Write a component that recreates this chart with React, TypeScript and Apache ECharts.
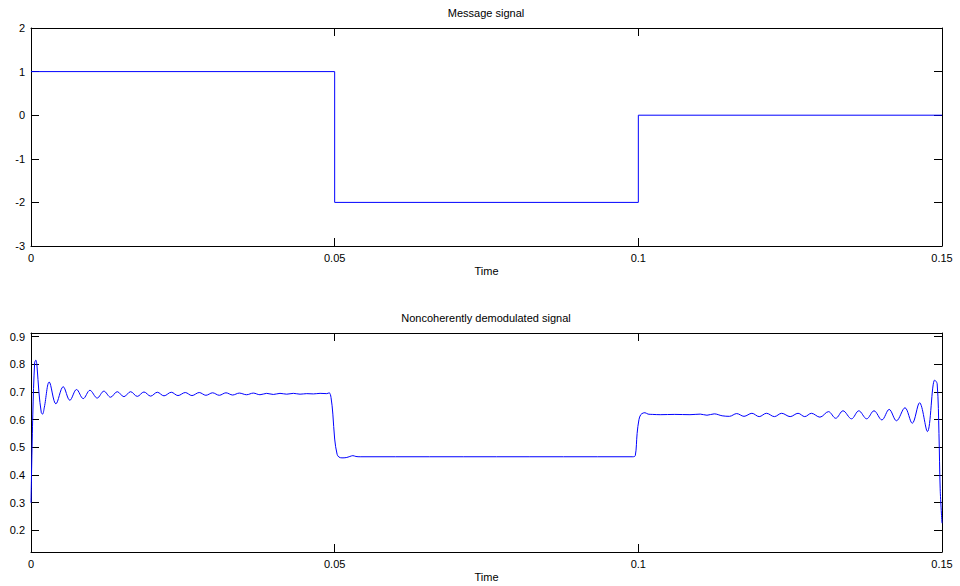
import React, { useEffect, useRef } from "react";
import * as echarts from "echarts";

const timeTicks = [0, 0.05, 0.1, 0.15];
const demodYTicks = [0.2, 0.3, 0.4, 0.5, 0.6, 0.7, 0.8, 0.9];

const titles = ["Message signal", "Noncoherently demodulated signal"];
const xName = "Time";

const msgTime = [0, 0.05, 0.05, 0.1, 0.1, 0.15];
const msgValue = [1, 1, -2, -2, 0, 0];

const demodTime = [
  0, 0.0003, 0.0006, 0.0008, 0.001, 0.0013, 0.0017, 0.0019, 0.0022, 0.003,
  0.0041, 0.0053, 0.0064, 0.0075, 0.0086, 0.0097, 0.0109, 0.012, 0.0131, 0.0142,
  0.0153, 0.0164, 0.0175, 0.0186, 0.0197, 0.0208, 0.0219, 0.0231, 0.0242, 0.0254,
  0.0265, 0.0277, 0.0288, 0.0299, 0.031, 0.0321, 0.0332, 0.0343, 0.0355, 0.0366,
  0.0377, 0.0388, 0.0399, 0.041, 0.0421, 0.0432, 0.0443, 0.0454, 0.0465, 0.0476,
  0.0487, 0.0491, 0.0494, 0.0497, 0.05, 0.0504, 0.0507, 0.0512, 0.0519, 0.0525,
  0.053, 0.0535, 0.0542, 0.0991, 0.0995, 0.0998, 0.1001, 0.1004, 0.1008, 0.1011,
  0.1016, 0.1023, 0.1036, 0.106, 0.1085, 0.1102, 0.1113, 0.1125, 0.1138, 0.115,
  0.1162, 0.1174, 0.1187, 0.1199, 0.1211, 0.1224, 0.1236, 0.125, 0.1263, 0.1274,
  0.1285, 0.1299, 0.1313, 0.1325, 0.1337, 0.1351, 0.1363, 0.1376, 0.1388, 0.1401,
  0.1413, 0.1425, 0.1439, 0.1451, 0.1463, 0.1476, 0.1488, 0.1492, 0.1495, 0.1497,
  0.15,
];
const demodValue = [
  0.3, 0.62, 0.805, 0.815, 0.79, 0.7, 0.625, 0.62, 0.645, 0.736,
  0.657, 0.719, 0.67, 0.709, 0.676, 0.706, 0.678, 0.703, 0.681, 0.701,
  0.683, 0.701, 0.684, 0.7, 0.685, 0.699, 0.686, 0.699, 0.687, 0.698,
  0.687, 0.698, 0.688, 0.697, 0.688, 0.697, 0.689, 0.696, 0.69, 0.696,
  0.69, 0.695, 0.691, 0.695, 0.692, 0.695, 0.692, 0.694, 0.693, 0.695,
  0.694, 0.697, 0.68, 0.62, 0.53, 0.475, 0.465, 0.462, 0.463, 0.467,
  0.47, 0.467, 0.466, 0.466, 0.47, 0.55, 0.6, 0.618, 0.624, 0.625,
  0.62, 0.619, 0.618, 0.619, 0.618, 0.62, 0.616, 0.621, 0.614, 0.612,
  0.622, 0.612, 0.623, 0.611, 0.623, 0.611, 0.623, 0.611, 0.623, 0.611,
  0.623, 0.609, 0.629, 0.605, 0.632, 0.603, 0.632, 0.603, 0.632, 0.599,
  0.637, 0.596, 0.643, 0.587, 0.661, 0.557, 0.743, 0.73, 0.55, 0.35,
  0.226,
];

const FONT = "'Liberation Sans', Arial, Helvetica, sans-serif";

function xAxisFor(gridIndex: number, position: "bottom" | "top") {
  const isBottom = position === "bottom";
  return {
    type: "value",
    gridIndex,
    position,
    min: timeTicks[0],
    max: timeTicks[timeTicks.length - 1],
    interval: timeTicks[1] - timeTicks[0],
    axisLine: { show: true, onZero: false, lineStyle: { color: "#000", width: 1 } },
    axisTick: { show: true, inside: true, length: 8, lineStyle: { color: "#000", width: 1 } },
    axisLabel: { show: isBottom, color: "#000", fontSize: 11, fontFamily: FONT, margin: 6 },
    splitLine: { show: false },
    name: isBottom ? xName : "",
    nameLocation: "middle",
    nameGap: 19,
    nameTextStyle: { color: "#000", fontSize: 11, fontFamily: FONT },
  };
}

function yAxisFor(gridIndex: number, position: "left" | "right", extra: any) {
  const isLeft = position === "left";
  const tick = { show: true, inside: true, length: 8, lineStyle: { color: "#000", width: 1 }, ...(extra.axisTick || {}) };
  const label = { show: isLeft, color: "#000", fontSize: 11, fontFamily: FONT, margin: 6, ...(extra.axisLabel || {}) };
  return {
    type: "value",
    gridIndex,
    position,
    min: extra.min,
    max: extra.max,
    ...(extra.interval !== undefined ? { interval: extra.interval } : {}),
    axisLine: { show: true, onZero: false, lineStyle: { color: "#000", width: 1 } },
    axisTick: tick,
    axisLabel: label,
    splitLine: { show: false },
  };
}

export default function App() {
  const ref = useRef<HTMLDivElement>(null);

  useEffect(() => {
    if (!ref.current) return;
    const chart = echarts.init(ref.current, null, { renderer: "svg" });

    const msgScale = { min: -3, max: 2, interval: 1 };
    const demodScale = {
      min: 0.122,
      max: 0.913,
      axisLabel: { customValues: demodYTicks },
      axisTick: { customValues: demodYTicks },
    };

    const option: any = {
      animation: false,
      backgroundColor: "#fff",
      grid: [
        { left: 31, top: 28, width: 911, height: 218, containLabel: false },
        { left: 31, top: 333, width: 911, height: 219, containLabel: false },
      ],
      xAxis: [
        xAxisFor(0, "bottom"),
        xAxisFor(0, "top"),
        xAxisFor(1, "bottom"),
        xAxisFor(1, "top"),
      ],
      yAxis: [
        yAxisFor(0, "left", msgScale),
        yAxisFor(0, "right", msgScale),
        yAxisFor(1, "left", demodScale),
        yAxisFor(1, "right", demodScale),
      ],
      graphic: [
        {
          type: "text",
          x: 486,
          y: 13,
          style: { text: titles[0], fill: "#000", font: `11px ${FONT}`, align: "center", verticalAlign: "middle" },
        },
        {
          type: "text",
          x: 486,
          y: 318,
          style: { text: titles[1], fill: "#000", font: `11px ${FONT}`, align: "center", verticalAlign: "middle" },
        },
      ],
      series: [
        {
          type: "line",
          xAxisIndex: 0,
          yAxisIndex: 0,
          data: msgTime.map((t, i) => [t, msgValue[i]]),
          showSymbol: false,
          symbol: "none",
          lineStyle: { color: "#0000ff", width: 1 },
          itemStyle: { color: "#0000ff" },
        },
        {
          type: "line",
          xAxisIndex: 2,
          yAxisIndex: 2,
          data: demodTime.map((t, i) => [t, demodValue[i]]),
          showSymbol: false,
          symbol: "none",
          smooth: 0.35,
          lineStyle: { color: "#0000ff", width: 1 },
          itemStyle: { color: "#0000ff" },
        },
      ],
    };

    chart.setOption(option);
    return () => chart.dispose();
  }, []);

  return (
    <div
      ref={ref}
      style={{ position: "fixed", left: 0, top: 0, width: 960, height: 586, background: "#fff" }}
    />
  );
}
